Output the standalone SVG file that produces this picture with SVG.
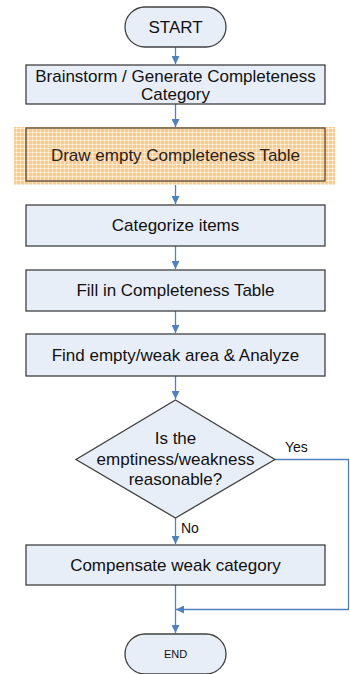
<svg xmlns="http://www.w3.org/2000/svg" width="350" height="674" viewBox="0 0 350 674">
<style>
.box{fill:#E8EEF8;stroke:#404040;stroke-width:1.3}
.t{font-family:"Liberation Sans",Arial,sans-serif;font-size:17px;fill:#111;text-anchor:middle}
.lbl{font-family:"Liberation Sans",Arial,sans-serif;font-size:14px;fill:#111}
.c{fill:none;stroke:#4F81BD;stroke-width:1.3}
</style>
<defs>
<marker id="ah" viewBox="0 0 10 10" refX="10" refY="5" markerWidth="8" markerHeight="8" markerUnits="userSpaceOnUse" orient="auto">
<path d="M0,0 L10,5 L0,10 Z" fill="#4F81BD"/>
</marker>
<pattern id="hl" width="4" height="4" patternUnits="userSpaceOnUse">
<rect width="4" height="4" fill="#F9CB8C"/>
<rect x="0" y="0" width="4" height="1" fill="#FCE3C2"/>
<rect x="0" y="0" width="1" height="4" fill="#FCE3C2"/>
<rect x="0" y="0" width="1" height="1" fill="#FFF6EA"/>
</pattern>
</defs>
<g id="connectors">
<path class="c" d="M175.5,47 V64" marker-end="url(#ah)"/>
<path class="c" d="M175.5,104 V127" marker-end="url(#ah)"/>
<path class="c" d="M175.5,181 V204" marker-end="url(#ah)"/>
<path class="c" d="M175.5,246 V269" marker-end="url(#ah)"/>
<path class="c" d="M175.5,311 V333" marker-end="url(#ah)"/>
<path class="c" d="M175.5,376 V399" marker-end="url(#ah)"/>
<path class="c" d="M175.5,518 V544" marker-end="url(#ah)"/>
<path class="c" d="M175.5,585 V633" marker-end="url(#ah)"/>
<path class="c" d="M275,459.5 H348.5 V609.5 H176" marker-end="url(#ah)"/>
<text class="lbl" x="285" y="452">Yes</text>
<text class="lbl" x="181" y="533">No</text>
</g>
<g id="start">
<rect class="box" x="125" y="7" width="101" height="40" rx="20" ry="20"/>
<text class="t" x="175.5" y="33">START</text>
</g>
<g id="brainstorm">
<rect class="box" x="26" y="65" width="299" height="39"/>
<text class="t" x="175.5" y="81.5">Brainstorm / Generate Completeness</text>
<text class="t" x="175.5" y="100">Category</text>
</g>
<g id="draw-table">
<rect x="14" y="127" width="321" height="58" fill="url(#hl)"/>
<rect x="26" y="128" width="299" height="53" fill="url(#hl)" stroke="#5A4630" stroke-width="1.3"/>
<text class="t" x="175.5" y="160.5" style="fill:#2a2218">Draw empty Completeness Table</text>
</g>
<g id="categorize">
<rect class="box" x="26" y="205" width="299" height="41"/>
<text class="t" x="175.5" y="231">Categorize items</text>
</g>
<g id="fill-table">
<rect class="box" x="26" y="270" width="299" height="41"/>
<text class="t" x="175.5" y="296">Fill in Completeness Table</text>
</g>
<g id="find-weak">
<rect class="box" x="26" y="334" width="299" height="42"/>
<text class="t" x="175.5" y="360.5">Find empty/weak area &amp; Analyze</text>
</g>
<g id="decision">
<polygon class="box" points="175.5,400 275,459.5 175.5,518 76,459.5"/>
<text class="t" x="175.5" y="444">Is the</text>
<text class="t" x="175.5" y="464.5">emptiness/weakness</text>
<text class="t" x="175.5" y="485">reasonable?</text>
</g>
<g id="compensate">
<rect class="box" x="26" y="545" width="299" height="40"/>
<text class="t" x="175.5" y="570.5">Compensate weak category</text>
</g>
<g id="end">
<rect class="box" x="125" y="634" width="101" height="40" rx="20" ry="20"/>
<text class="t" x="175.5" y="658" style="font-size:11px">END</text>
</g>
</svg>
